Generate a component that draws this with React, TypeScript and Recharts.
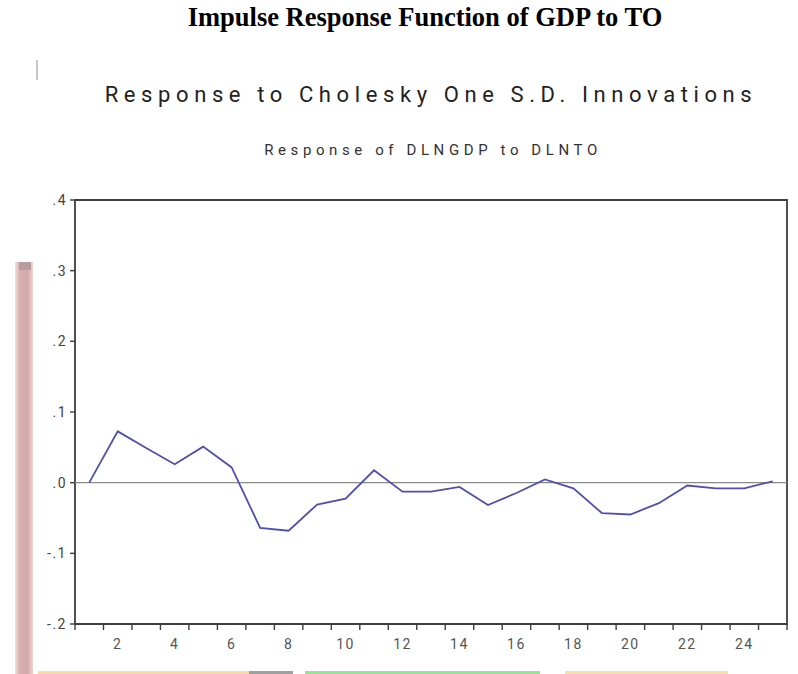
import { LineChart, Line, XAxis, YAxis, ReferenceLine, ReferenceArea } from 'recharts';

// impulse response periods and values
const periods = [1, 2, 3, 4, 5, 6, 7, 8, 9, 10, 11, 12, 13, 14, 15, 16, 17, 18, 19, 20, 21, 22, 23, 24, 25];
const response = [
  0.0, 0.0726, 0.049, 0.026, 0.051, 0.0216, -0.064, -0.068, -0.031, -0.0226, 0.0175, -0.0127, -0.0127,
  -0.006, -0.0316, -0.0146, 0.0047, -0.008, -0.043, -0.045, -0.029, -0.004, -0.008, -0.008, 0.002,
];
const yTicks = [-0.2, -0.1, 0, 0.1, 0.2, 0.3, 0.4];
const xLabels = [2, 4, 6, 8, 10, 12, 14, 16, 18, 20, 22, 24];

const chartData = periods.map((p, i) => ({ period: p, value: response[i] }));
// tick marks sit on the period boundaries, labels at the even periods
const boundaries = periods.map(p => p - 0.5).concat(periods[periods.length - 1] + 0.5);
const xTicks = [...boundaries, ...xLabels].sort((a, b) => a - b);

const AXIS = '#3e3e3e';
const SANS = 'Roboto, "Liberation Sans", Arial, sans-serif';

function fmtY(v: number) {
  return v.toFixed(1).replace('0.', '.');
}

function XTick(props: any) {
  const { x, y, payload } = props;
  const v = payload.value as number;
  if (Number.isInteger(v)) {
    return (
      <text x={x} y={y} dy={19} textAnchor="middle" fill="#555" fontSize={14} fontFamily={SANS} letterSpacing={1.5}>
        {v}
      </text>
    );
  }
  return <line x1={x} y1={y - 6} x2={x} y2={y} stroke={AXIS} strokeWidth={1.4} />;
}

export default function App() {
  return (
    <div style={{ position: 'absolute', left: 0, top: 0, width: 798, height: 674, background: '#fff', overflow: 'hidden' }}>
      <div
        style={{
          position: 'absolute', left: 0, top: 2, width: 850, textAlign: 'center',
          fontFamily: '"Liberation Serif", "Times New Roman", serif', fontWeight: 'bold', fontSize: 26.5, color: '#000',
        }}
      >
        Impulse Response Function of GDP to TO
      </div>
      <div style={{ position: 'absolute', left: 36, top: 60, width: 2, height: 20, background: '#c8c8c8' }} />
      <div
        style={{
          position: 'absolute', left: 0, top: 82, width: 862, textAlign: 'center',
          fontFamily: SANS, fontSize: 22, letterSpacing: 5.6, color: '#222',
        }}
      >
        Response to Cholesky One S.D. Innovations
      </div>
      <div
        style={{
          position: 'absolute', left: 0, top: 141, width: 866, textAlign: 'center',
          fontFamily: SANS, fontSize: 15, letterSpacing: 4.6, color: '#333',
        }}
      >
        Response of DLNGDP to DLNTO
      </div>
      {/* pinkish scan artefact on the left and coloured strip at the bottom */}
      <div style={{ position: 'absolute', left: 15, top: 262, width: 18, height: 412, background: 'linear-gradient(to right, #f3e2dc, #d8b0b0 25%, #d3a9ad 70%, #ecd6d0)' }} />
      <div style={{ position: 'absolute', left: 19, top: 262, width: 12, height: 8, background: '#b89c9e' }} />
      <div style={{ position: 'absolute', left: 38, top: 671, width: 211, height: 3, background: '#f4dca6' }} />
      <div style={{ position: 'absolute', left: 249, top: 671, width: 44, height: 3, background: '#a0a0a0' }} />
      <div style={{ position: 'absolute', left: 305, top: 671, width: 235, height: 3, background: '#93e693' }} />
      <div style={{ position: 'absolute', left: 565, top: 671, width: 163, height: 3, background: '#f2e2a8' }} />

      <div style={{ position: 'absolute', left: 0, top: 0 }}>
        <LineChart width={798} height={674} data={chartData} margin={{ top: 200, right: 11, bottom: 20, left: 35 }}>
          <XAxis
            dataKey="period"
            type="number"
            domain={[0.5, 25.5]}
            ticks={xTicks}
            interval={0}
            tick={<XTick />}
            tickLine={false}
            tickSize={6}
            tickMargin={0}
            axisLine={false}
            height={30}
          />
          <YAxis
            type="number"
            domain={[-0.2, 0.4]}
            ticks={yTicks}
            tickFormatter={fmtY}
            width={40}
            tickSize={5}
            tickMargin={3}
            axisLine={false}
            tickLine={{ stroke: AXIS, strokeWidth: 1.4 }}
            tick={{ fill: '#444', fontSize: 14, fontFamily: SANS, letterSpacing: 1.5 }}
          />
          <ReferenceArea x1={0.5} x2={25.5} y1={-0.2} y2={0.4} fill="none" stroke={AXIS} strokeWidth={1.8} />
          <ReferenceLine y={0} stroke="#8a8a8a" strokeWidth={1.4} />
          <Line
            dataKey="value"
            stroke="#5050ad"
            strokeWidth={1.8}
            dot={false}
            isAnimationActive={false}
          />
        </LineChart>
      </div>
    </div>
  );
}
